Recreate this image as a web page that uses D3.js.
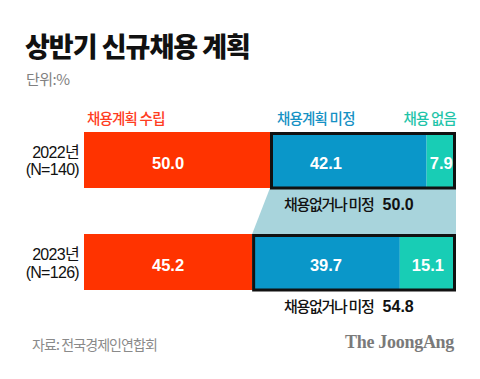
<!DOCTYPE html>
<html>
<head>
<meta charset="utf-8">
<script src="https://cdn.jsdelivr.net/npm/d3@7"></script>
<style>
  html, body { margin: 0; padding: 0; background: #fff; }
  svg { display: block; }
  .kr { font-family: "Noto Sans CJK KR", "Noto Sans", sans-serif; }
  .num { font-family: "Liberation Sans", Arial, "Noto Sans CJK KR", sans-serif; }
</style>
</head>
<body>
<svg id="chart" width="480" height="379"></svg>
<script>
// ---- data ----
const title = "상반기 신규채용 계획";
const unitLabel = "단위:%";
const years = ["2022년", "2023년"];
const sampleSizes = ["(N=140)", "(N=126)"];
const seriesNames = ["채용계획 수립", "채용계획 미정", "채용 없음"];
const planned = [50.0, 45.2];
const undecided = [42.1, 39.7];
const noHiring = [7.9, 15.1];
const combinedName = "채용없거나 미정";
const combinedValues = [50.0, 54.8];
const sourceText = "자료: 전국경제인연합회";
const brandText = "The JoongAng";

// ---- styles ----
const colors = ["#ff3300", "#0a97c9", "#18cdb5"];
const legendColors = ["#ff3d1f", "#1591c4", "#1fc4a9"];
const connectorColor = "#a8d4dc";

const svg = d3.select("#chart");

const rows = years.map((y, i) => ({
  year: y, n: sampleSizes[i],
  planned: planned[i], undecided: undecided[i], none: noHiring[i],
  combined: combinedValues[i]
}));
const keys = ["planned", "undecided", "none"];
const stacked = d3.stack().keys(keys)(rows);

const x = d3.scaleLinear().domain([0, 100]).range([84, 456]);
const y = d3.scaleBand().domain(years).range([132, 290]).paddingInner(0.451);

// title
svg.append("text").attr("class", "kr")
  .attr("x", 25).attr("y", 57)
  .attr("font-size", 27).attr("font-weight", 900)
  .attr("letter-spacing", -1).attr("fill", "#111")
  .text(title);

svg.append("text").attr("class", "kr")
  .attr("x", 26).attr("y", 85)
  .attr("font-size", 15).attr("fill", "#808080")
  .attr("letter-spacing", -0.5)
  .text(unitLabel);

// legend
const legendPos = [
  { x: x(0) + 3, anchor: "start" },
  { x: x(50) + 7, anchor: "start" },
  { x: x(100), anchor: "end" }
];
svg.append("g").selectAll("text").data(seriesNames).join("text")
  .attr("class", "kr")
  .attr("x", (d, i) => legendPos[i].x)
  .attr("y", 124)
  .attr("text-anchor", (d, i) => legendPos[i].anchor)
  .attr("font-size", 14.5).attr("font-weight", 500)
  .attr("letter-spacing", -0.8)
  .attr("fill", (d, i) => legendColors[i])
  .text(d => d);

// connector band between the two "undecided + none" boxes
const r0 = rows[0], r1 = rows[1];
const poly = [
  [x(r0.planned), y(r0.year) + y.bandwidth()],
  [x(100), y(r0.year) + y.bandwidth()],
  [x(100), y(r1.year)],
  [x(r1.planned), y(r1.year)]
];
svg.append("path")
  .attr("d", d3.line()(poly) + "Z")
  .attr("fill", connectorColor);

// bars
const gBars = svg.append("g");
stacked.forEach((s, si) => {
  gBars.selectAll(null).data(s).join("rect")
    .attr("x", d => x(d[0]))
    .attr("y", d => y(d.data.year))
    .attr("width", d => x(d[1]) - x(d[0]))
    .attr("height", y.bandwidth())
    .attr("fill", colors[si]);
});

// value labels (red and blue aligned in columns, teal per segment)
const colCenter = (si) => {
  const segs = stacked[si];
  let best = segs[0];
  segs.forEach(d => { if (d[1] - d[0] < best[1] - best[0]) best = d; });
  return (x(best[0]) + x(best[1])) / 2;
};
stacked.forEach((s, si) => {
  gBars.selectAll(null).data(s).join("text")
    .attr("class", "num")
    .attr("x", d => si < 2 ? colCenter(si) : (x(d[0]) + x(d[1])) / 2)
    .attr("y", d => y(d.data.year) + y.bandwidth() / 2 + 9)
    .attr("text-anchor", "middle")
    .attr("font-size", 16.5).attr("font-weight", 700)
    .attr("fill", "#fff")
    .text(d => (d[1] - d[0]).toFixed(1));
});

// black outline boxes around undecided + none
svg.append("g").selectAll("rect").data(rows).join("rect")
  .attr("x", d => x(d.planned) + 1.5)
  .attr("y", d => y(d.year) + 1.5)
  .attr("width", d => x(100) - x(d.planned) - 3)
  .attr("height", y.bandwidth() - 1.5)
  .attr("fill", "none")
  .attr("stroke", "#111")
  .attr("stroke-width", 3);

// year labels
const gY = svg.append("g");
rows.forEach(d => {
  const c = y(d.year) + y.bandwidth() / 2;
  gY.append("text").attr("class", "num")
    .attr("x", x(0) - 5).attr("y", c - 2)
    .attr("text-anchor", "end")
    .attr("font-size", 16).attr("letter-spacing", -0.7).attr("fill", "#111")
    .text(d.year);
  gY.append("text").attr("class", "num")
    .attr("x", x(0) - 5).attr("y", c + 15.5)
    .attr("text-anchor", "end")
    .attr("font-size", 16).attr("letter-spacing", -0.7).attr("fill", "#111")
    .text(d.n);
});

// combined labels below each box
const gC = svg.append("g");
rows.forEach(d => {
  const by = y(d.year) + y.bandwidth() + 22;
  const t = gC.append("text").attr("y", by).attr("x", x(50) + 14);
  t.append("tspan").attr("class", "kr")
    .attr("font-size", 15).attr("font-weight", 500)
    .attr("letter-spacing", -1.3).attr("fill", "#111")
    .text(combinedName);
  t.append("tspan").attr("class", "num")
    .attr("dx", 9)
    .attr("font-size", 16).attr("font-weight", 700)
    .attr("fill", "#111")
    .text(d.combined.toFixed(1));
});

// footer
svg.append("text").attr("class", "kr")
  .attr("x", 32).attr("y", 350)
  .attr("font-size", 14).attr("letter-spacing", -0.9)
  .attr("fill", "#8a8a8a")
  .text(sourceText);

svg.append("text")
  .attr("x", x(100) - 2).attr("y", 348)
  .attr("text-anchor", "end")
  .attr("font-family", "'Liberation Serif', 'DejaVu Serif', serif")
  .attr("font-size", 18).attr("font-weight", 700)
  .attr("letter-spacing", -0.3)
  .attr("fill", "#7a7a7a")
  .text(brandText);
</script>
</body>
</html>
